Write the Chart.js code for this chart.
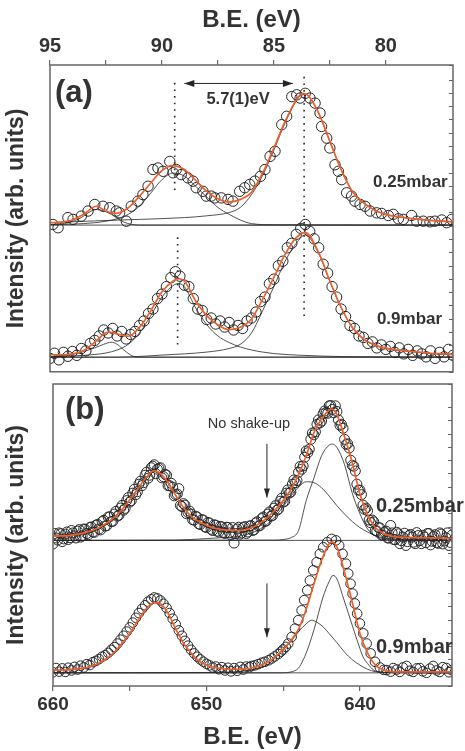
<!DOCTYPE html>
<html>
<head>
<meta charset="utf-8">
<script src="https://cdn.jsdelivr.net/npm/chart.js@4.4.1/dist/chart.umd.min.js"></script>
<style>
  html, body { margin: 0; padding: 0; background: #fff; }
  #wrap { position: relative; width: 465px; height: 751px; }
  #chartA { position: absolute; left: 0; top: 0; }
  #chartB { position: absolute; left: 0; top: 378px; }
</style>
</head>
<body>
<div id="wrap">
  <canvas id="chartA" width="465" height="378"></canvas>
  <canvas id="chartB" width="465" height="373"></canvas>
</div>
<script>
// ---- panel (a): 4d region, B.E. in eV, intensity in arb. units ----
const aTopDataE = [94.87, 94.64, 94.2, 93.97, 93.6, 93.3, 93.0, 92.63, 92.33, 92.04, 91.89, 91.59, 91.37, 91.07, 90.85, 90.62, 90.4, 90.18, 89.95, 89.65, 89.5, 89.36, 89.14, 88.84, 88.61, 88.47, 88.17, 88.02, 87.8, 87.64, 87.35, 87.05, 86.83, 86.53, 86.3, 86.08, 85.85, 85.6, 85.4, 85.17, 84.95, 84.65, 84.43, 84.2, 83.98, 83.83, 83.6, 83.39, 83.16, 82.94, 82.87, 82.64, 82.5, 82.27, 82.12, 81.97, 81.75, 81.53, 81.38, 81.15, 80.93, 80.7, 80.41, 80.19, 79.89, 79.67, 79.44, 79.22, 78.85, 78.62, 78.33, 78.03, 77.81, 77.5, 77.28, 77.06];
const aTopDataI = [49.3, 48.2, 51.6, 51.0, 52.1, 53.8, 56.0, 55.4, 54.9, 53.8, 53.2, 50.4, 55.4, 57.1, 59.3, 62.1, 67.7, 68.2, 67.1, 70.4, 66.6, 67.7, 66.0, 64.9, 63.8, 61.6, 60.4, 58.8, 58.8, 58.2, 58.2, 57.7, 57.1, 60.4, 61.6, 62.7, 63.8, 65.4, 67.7, 72.1, 73.8, 82.7, 85.5, 92.1, 92.7, 91.6, 93.2, 91.6, 89.9, 86.6, 82.1, 78.2, 74.9, 69.3, 67.1, 64.3, 59.9, 58.8, 57.1, 56.0, 55.4, 53.8, 53.2, 53.0, 52.3, 52.7, 51.2, 51.0, 52.3, 50.4, 50.4, 50.2, 50.4, 50.8, 49.9, 51.0];

const aTopFitE = [95, 94.5, 94, 93.5, 92.93, 92.5, 92.1, 91.5, 91, 90.5, 90, 89.55, 89, 88.5, 88, 87.5, 87, 86.5, 86, 85.5, 85, 84.5, 84, 83.7, 83.5, 83, 82.5, 82, 81.5, 81, 80.5, 80, 79.5, 79, 78.5, 78, 77.5, 77];
const aTopFitI = [49.9, 50.1, 50.8, 52.7, 55.4, 53.8, 53.0, 54.9, 58.8, 63.2, 67.3, 69.0, 67.7, 64.1, 60.4, 57.9, 56.8, 57.7, 60.1, 66.6, 74.9, 83.8, 91.0, 93.2, 92.7, 86.6, 77.1, 67.7, 60.4, 56.6, 54.1, 52.7, 51.9, 51.4, 51.0, 50.7, 50.4, 50.2];

const aTopBaseE = [95, 77];
const aTopBaseI = [49.1, 49.1];
const aTopC1E = [95, 94.5, 94.2, 93.6, 93.3, 92.93, 92.6, 92.26, 92, 91.7, 91.4, 91, 77];
const aTopC1I = [49.2, 49.5, 49.9, 51.6, 53.2, 54.3, 53.9, 52.7, 51.4, 50.1, 49.4, 49.1, 49.1];
const aTopC2E = [95, 94, 93, 92.5, 92, 91.5, 91, 90.5, 90, 89.5, 89, 88.5, 88, 87.5, 87, 86.5, 86, 85, 77];
const aTopC2I = [49.2, 49.4, 49.9, 50.4, 51.2, 52.7, 55.5, 59.8, 64.3, 66.5, 65.5, 62.1, 58.5, 55.0, 52.7, 50.8, 49.6, 49.2, 49.1];
const aTopC3E = [95, 93, 91, 89, 88, 87, 86.5, 86, 85.5, 85, 84.5, 84, 83.7, 83.5, 83, 82.5, 82, 81.5, 81, 80.5, 80, 79, 78, 77];
const aTopC3I = [49.9, 50.5, 51.0, 51.6, 52.2, 53.3, 55.0, 59.3, 65.8, 74.2, 83.3, 90.6, 93.0, 92.6, 86.6, 77.1, 67.7, 60.4, 56.6, 54.1, 52.7, 51.4, 50.7, 50.2];

const aBotDataE = [95, 94.8, 94.6, 94.4, 94.2, 94, 93.8, 93.6, 93.4, 93.2, 93, 92.8, 92.6, 92.4, 92.2, 92, 91.8, 91.6, 91.4, 91.2, 91, 90.8, 90.6, 90.4, 90.2, 90, 89.8, 89.6, 89.4, 89.2, 89, 88.8, 88.6, 88.4, 88.2, 88, 87.8, 87.6, 87.4, 87.2, 87, 86.8, 86.6, 86.4, 86.2, 86, 85.8, 85.6, 85.4, 85.2, 85, 84.8, 84.6, 84.4, 84.2, 84, 83.8, 83.6, 83.4, 83.2, 83, 82.8, 82.6, 82.4, 82.2, 82, 81.8, 81.6, 81.4, 81.2, 81, 80.8, 80.6, 80.4, 80.2, 80, 79.8, 79.6, 79.4, 79.2, 79, 78.8, 78.6, 78.4, 78.2, 78, 77.8, 77.6, 77.4, 77.2, 77];
const aBotDataI = [4.5, 6.2, 4.0, 6.5, 5.2, 6.8, 5.5, 7.8, 7.0, 9.5, 10.5, 12.0, 14.0, 13.0, 14.5, 12.0, 13.5, 11.0, 12.5, 13.5, 15.5, 17.0, 19.5, 21.0, 24.5, 26.0, 28.5, 31.5, 33.5, 32.0, 29.0, 28.5, 24.5, 21.0, 20.5, 17.5, 18.0, 16.0, 17.0, 15.0, 16.5, 14.0, 15.5, 14.5, 17.0, 18.0, 20.0, 23.5, 25.0, 29.5, 31.0, 35.5, 37.0, 41.5, 43.0, 46.0, 48.0, 49.3, 47.0, 44.5, 41.5, 36.0, 33.0, 28.5, 25.0, 21.0, 18.5, 15.5, 14.5, 12.0, 11.5, 9.5, 10.0, 8.0, 9.0, 7.5, 8.5, 6.5, 8.0, 6.0, 7.5, 5.5, 7.0, 6.0, 5.0, 7.0, 4.5, 6.5, 5.0, 7.5, 5.5];

const aBotFitE = [95, 94.5, 94, 93.5, 93, 92.4, 92, 91.5, 91, 90.5, 90, 89.5, 89.28, 89, 88.5, 88, 87.5, 87, 86.5, 86, 85.5, 85, 84.5, 84, 83.6, 83, 82.5, 82, 81.5, 81, 80.5, 80, 79.5, 79, 78.5, 78, 77.5, 77];
const aBotFitI = [5.7, 5.7, 6.0, 7.1, 9.9, 13.3, 12.7, 11.9, 14.9, 20.4, 26.8, 30.4, 31.2, 30.4, 23.8, 18.8, 15.7, 14.1, 14.9, 17.7, 24.3, 31.6, 39.3, 44.9, 46.6, 39.9, 30.4, 21.6, 14.9, 11.0, 9.0, 7.9, 7.3, 6.9, 6.6, 6.2, 6.0, 5.8];

const aBotBaseE = [95, 77];
const aBotBaseI = [4.9, 4.9];
const aBotC1E = [95, 94.5, 94, 93.5, 93, 92.6, 92.26, 92, 91.7, 91.4, 91.1, 77];
const aBotC1I = [5.0, 5.3, 5.8, 6.8, 8.0, 9.2, 9.9, 9.2, 7.3, 5.6, 4.9, 4.9];
const aBotC2E = [95, 94, 93, 92.5, 92, 91.5, 91, 90.5, 90, 89.6, 89.28, 89, 88.5, 88, 87.5, 87, 86.5, 86, 85.5, 85, 84, 83, 82, 80, 77];
const aBotC2I = [5.0, 5.3, 5.8, 6.3, 7.3, 9.2, 13.0, 18.8, 25.0, 28.3, 29.5, 28.5, 21.5, 15.8, 12.0, 9.8, 8.3, 7.3, 6.6, 6.1, 5.6, 5.3, 5.1, 5.0, 4.9];
const aBotC3E = [95, 92, 91.4, 90, 88, 87, 86.5, 86, 85.5, 85, 84.5, 84, 83.6, 83, 82.5, 82, 81.5, 81, 80.5, 80, 79, 78, 77];
const aBotC3I = [4.9, 4.9, 5.0, 5.6, 6.6, 7.8, 9.2, 13.0, 20.5, 28.5, 37.0, 43.0, 45.8, 39.6, 30.2, 21.5, 14.8, 10.9, 8.9, 7.8, 6.8, 6.1, 5.7];

// ---- panel (b): 2p region ----
const bTopDataE = [660, 659.8, 659.6, 659.4, 659.2, 659, 658.8, 658.6, 658.4, 658.2, 658, 657.8, 657.6, 657.4, 657.2, 657, 656.8, 656.6, 656.4, 656.2, 656, 655.8, 655.6, 655.4, 655.2, 655, 654.8, 654.6, 654.4, 654.2, 654, 653.8, 653.6, 653.4, 653.2, 653, 652.8, 652.6, 652.4, 652.2, 652, 651.8, 651.6, 651.4, 651.2, 651, 650.8, 650.6, 650.4, 650.2, 650, 649.8, 649.6, 649.4, 649.2, 649, 648.8, 648.6, 648.4, 648.2, 648, 647.8, 647.6, 647.4, 647.2, 647, 646.8, 646.6, 646.4, 646.2, 646, 645.8, 645.6, 645.4, 645.2, 645, 644.8, 644.6, 644.4, 644.2, 644, 643.8, 643.6, 643.4, 643.2, 643, 642.8, 642.6, 642.4, 642.2, 642, 641.8, 641.6, 641.4, 641.2, 641, 640.8, 640.6, 640.4, 640.2, 640, 639.8, 639.6, 639.4, 639.2, 639, 638.8, 638.6, 638.4, 638.2, 638, 637.8, 637.6, 637.4, 637.2, 637, 636.8, 636.6, 636.4, 636.2, 636, 635.8, 635.6, 635.4, 635.2, 635, 634.8, 634.6, 634.4, 634.2, 634];
const bTopDataI = [47.5, 49.5, 51.2, 48.3, 50.8, 49.0, 52.0, 50.2, 51.8, 49.8, 52.5, 51.0, 53.0, 51.5, 53.8, 52.5, 55.0, 53.5, 56.5, 55.0, 57.5, 56.8, 59.5, 58.8, 62.0, 61.5, 64.5, 64.0, 67.5, 67.0, 70.5, 69.5, 73.0, 74.0, 72.5, 73.0, 70.0, 70.5, 67.0, 66.5, 64.0, 66.0, 60.0, 60.5, 58.0, 57.5, 55.5, 56.5, 54.0, 55.5, 53.0, 54.5, 52.0, 53.8, 51.5, 53.2, 51.0, 53.0, 50.5, 47.8, 52.5, 50.8, 53.0, 51.0, 53.5, 52.0, 54.5, 53.5, 56.0, 55.0, 57.5, 56.8, 59.5, 58.8, 61.8, 61.5, 64.5, 64.5, 67.5, 68.0, 71.5, 72.5, 76.5, 78.0, 82.5, 84.0, 87.5, 88.0, 91.0, 91.5, 93.7, 92.5, 93.7, 89.0, 87.5, 82.5, 81.0, 75.5, 73.5, 67.5, 65.5, 60.5, 59.5, 55.5, 55.5, 52.0, 53.0, 50.5, 51.5, 49.5, 53.7, 49.0, 51.4, 47.6, 49.8, 47.0, 50.3, 49.8, 47.6, 50.3, 47.6, 49.8, 51.0, 47.2, 50.0, 48.0, 51.2, 47.5, 49.6, 47.0, 50.5];
const bTopData2E = [659.9, 659.7, 659.5, 659.3, 659.1, 658.9, 658.7, 658.5, 658.3, 658.1, 657.9, 657.7, 657.5, 657.3, 657.1, 656.9, 656.7, 656.5, 656.3, 656.1, 655.9, 655.7, 655.5, 655.3, 655.1, 654.9, 654.7, 654.5, 654.3, 654.1, 653.9, 653.7, 653.5, 653.3, 653.1, 652.9, 652.7, 652.5, 652.3, 652.1, 651.9, 651.7, 651.5, 651.3, 651.1, 650.9, 650.7, 650.5, 650.3, 650.1, 649.9, 649.7, 649.5, 649.3, 649.1, 648.9, 648.7, 648.5, 648.3, 648.1, 647.9, 647.7, 647.5, 647.3, 647.1, 646.9, 646.7, 646.5, 646.3, 646.1, 645.9, 645.7, 645.5, 645.3, 645.1, 644.9, 644.7, 644.5, 644.3, 644.1, 643.9, 643.7, 643.5, 643.3, 643.1, 642.9, 642.7, 642.5, 642.3, 642.1, 641.9, 641.7, 641.5, 641.3, 641.1, 640.9, 640.7, 640.5, 640.3, 640.1, 639.9, 639.7, 639.5, 639.3, 639.1, 638.9, 638.7, 638.5, 638.3, 638.1, 637.9, 637.7, 637.5, 637.3, 637.1, 636.9, 636.7, 636.5, 636.3, 636.1, 635.9, 635.7, 635.5, 635.3, 635.1, 634.9, 634.7, 634.5, 634.3, 634.1];
const bTopData2I = [51.0, 48.8, 50.9, 49.2, 51.5, 49.6, 51.2, 49.5, 52.3, 50.2, 52.4, 50.6, 53.2, 51.4, 54.0, 52.2, 55.4, 53.6, 56.6, 55.1, 58.4, 57.1, 60.4, 59.4, 63.0, 62.0, 65.8, 65.0, 68.5, 68.0, 71.5, 70.5, 73.5, 71.0, 72.8, 69.6, 70.8, 67.0, 67.8, 63.6, 64.2, 60.4, 61.0, 57.6, 58.5, 55.6, 56.8, 54.2, 55.6, 53.2, 54.7, 52.4, 53.9, 51.8, 53.4, 51.4, 53.1, 51.2, 53.0, 51.0, 53.1, 51.2, 53.3, 51.5, 53.6, 52.2, 54.9, 53.7, 56.5, 55.2, 58.2, 57.0, 60.3, 59.2, 62.8, 61.8, 65.6, 64.9, 68.9, 68.7, 73.4, 73.6, 78.6, 79.2, 84.6, 85.0, 89.0, 88.6, 92.0, 91.2, 93.8, 91.4, 91.8, 87.2, 86.2, 80.8, 79.6, 73.8, 71.9, 65.5, 64.0, 59.1, 58.6, 54.6, 54.9, 51.8, 52.9, 50.4, 51.8, 49.5, 51.2, 48.9, 50.9, 48.6, 51.1, 48.3, 50.7, 48.1, 51.3, 48.6, 50.4, 47.9, 51.0, 48.4, 50.6, 47.7, 50.8, 48.5, 51.2, 48.0];

const bTopFitE = [660, 659.5, 659, 658.5, 658, 657.5, 657, 656.5, 656, 655.5, 655, 654.5, 654, 653.4, 653, 652.5, 652, 651.5, 651, 650.5, 650, 649.5, 649, 648.5, 648, 647.5, 647, 646.5, 646, 645.5, 645, 644.5, 644, 643.5, 643, 642.5, 641.85, 641.5, 641, 640.5, 640, 639.5, 639, 638.5, 638, 637.5, 637, 636, 635, 634];
const bTopFitI = [50.1, 50.2, 50.3, 50.7, 51.2, 51.9, 53.0, 54.5, 56.5, 59.0, 62.3, 65.7, 69.3, 72.0, 71.0, 68.0, 63.7, 59.7, 56.8, 55.0, 53.8, 52.8, 52.3, 52.1, 52.0, 52.2, 53.0, 54.5, 56.5, 59.0, 62.0, 65.7, 70.7, 77.0, 84.7, 89.3, 92.6, 90.7, 83.3, 74.7, 64.2, 57.3, 53.0, 51.2, 50.2, 49.8, 49.7, 49.6, 49.5, 49.4];

const bTopBaseE = [660, 634];
const bTopBaseI = [48.7, 48.7];
const bTopBroadE = [660, 652, 650, 649, 648, 647.5, 647, 646.5, 646, 645.5, 645, 644.5, 644, 643.5, 643, 642.5, 642, 641.5, 641, 640.5, 640, 639.5, 639, 638.5, 638, 637, 634];
const bTopBroadI = [48.7, 48.8, 49.3, 49.6, 50.0, 50.5, 51.3, 52.5, 54.3, 56.8, 60.0, 63.5, 66.5, 68.3, 68.0, 66.3, 63.5, 60.3, 57.5, 55.0, 53.0, 51.5, 50.3, 49.6, 49.2, 48.9, 48.7];
const bTopNarrowE = [660, 645.5, 645, 644.5, 644, 643.5, 643, 642.5, 642, 641.8, 641.5, 641, 640.5, 640, 639.5, 639, 638.5, 638, 634];
const bTopNarrowI = [48.7, 48.8, 49.0, 49.6, 52.0, 62.0, 69.5, 77.0, 80.6, 80.9, 79.8, 74.0, 64.5, 57.6, 52.5, 50.2, 49.3, 48.9, 48.7];

const bBotDataE = [660, 659.8, 659.6, 659.4, 659.2, 659, 658.8, 658.6, 658.4, 658.2, 658, 657.8, 657.6, 657.4, 657.2, 657, 656.8, 656.6, 656.4, 656.2, 656, 655.8, 655.6, 655.4, 655.2, 655, 654.8, 654.6, 654.4, 654.2, 654, 653.8, 653.6, 653.4, 653.2, 653, 652.8, 652.6, 652.4, 652.2, 652, 651.8, 651.6, 651.4, 651.2, 651, 650.8, 650.6, 650.4, 650.2, 650, 649.8, 649.6, 649.4, 649.2, 649, 648.8, 648.6, 648.4, 648.2, 648, 647.8, 647.6, 647.4, 647.2, 647.06, 646.85, 646.63, 646.4, 646.19, 645.95, 645.75, 645.55, 645.32, 645.15, 645.0, 644.83, 644.67, 644.45, 644.23, 644.02, 643.8, 643.63, 643.43, 643.26, 643.04, 642.82, 642.61, 642.39, 642.13, 641.84, 641.56, 641.35, 641.13, 640.91, 640.76, 640.61, 640.48, 640.33, 640.18, 640.0, 639.78, 639.56, 639.3, 639.02, 638.7, 638.45, 638.26, 638.0, 637.83, 637.6, 637.4, 637.2, 636.96, 636.75, 636.53, 636.3, 636.1, 635.9, 635.66, 635.45, 635.23, 635.0, 634.8, 634.6, 634.36, 634.2, 634.03];
const bBotDataI = [4.6, 6.0, 4.8, 5.9, 4.7, 6.1, 5.2, 6.4, 5.5, 6.8, 6.2, 7.3, 7.0, 8.0, 8.4, 9.0, 9.8, 10.3, 11.1, 12.1, 13.0, 14.2, 15.5, 16.8, 18.2, 19.6, 21.2, 22.8, 24.4, 25.8, 27.0, 28.2, 29.0, 29.6, 29.3, 28.6, 27.5, 26.1, 24.4, 22.5, 20.6, 18.6, 16.8, 15.1, 13.5, 12.1, 10.9, 9.8, 8.9, 8.1, 7.4, 6.9, 6.2, 6.5, 5.6, 6.3, 5.2, 6.1, 4.9, 6.0, 5.1, 6.4, 5.5, 6.5, 6.3, 6.7, 6.9, 7.3, 7.8, 8.1, 8.6, 9.2, 9.9, 10.7, 11.5, 12.2, 13.1, 14.2, 16.4, 19.2, 22.0, 25.3, 28.7, 32.0, 35.3, 38.7, 41.4, 44.2, 46.4, 48.1, 49.2, 48.7, 47.0, 44.2, 40.9, 37.6, 34.2, 30.9, 27.6, 24.2, 20.9, 17.6, 14.2, 10.9, 8.1, 6.2, 5.4, 5.3, 4.8, 6.0, 5.5, 4.7, 6.2, 6.7, 5.1, 4.7, 5.9, 6.0, 4.9, 4.4, 5.8, 6.7, 5.2, 4.7, 6.3, 6.0, 4.6, 5.3];

const bBotFitE = [660, 659.5, 659, 658.5, 658, 657.5, 657, 656.5, 656, 655.5, 655, 654.5, 654, 653.4, 653, 652.5, 652, 651.5, 651, 650.5, 650, 649.5, 649, 648.5, 648, 647.5, 647, 646.5, 646, 645.5, 645, 644.5, 644, 643.5, 643, 642.5, 641.85, 641.5, 641, 640.5, 640, 639.5, 639, 638.5, 638, 637, 634];
const bBotFitI = [5.3, 5.3, 5.4, 5.7, 6.0, 6.6, 7.7, 9.2, 11.3, 14.2, 17.4, 21.7, 25.3, 27.9, 27.5, 24.3, 19.0, 14.3, 11.0, 8.4, 7.0, 6.2, 5.8, 5.6, 5.6, 5.7, 6.1, 6.9, 8.0, 9.8, 12.3, 15.2, 19.0, 25.7, 34.0, 42.0, 48.1, 46.5, 38.0, 28.0, 17.6, 11.0, 7.0, 5.5, 4.8, 4.7, 4.7];

const bBotBaseE = [660, 634];
const bBotBaseI = [4.4, 4.4];
const bBotBroadE = [660, 650, 649, 648, 647, 646.5, 646, 645.5, 645, 644.5, 644, 643.5, 643.15, 642.8, 642.4, 642, 641.5, 641, 640.5, 640, 639.5, 639, 638.5, 634];
const bBotBroadI = [4.4, 4.5, 4.6, 4.8, 5.5, 6.2, 7.2, 9.5, 12.0, 14.8, 18.2, 20.8, 22.0, 21.3, 19.8, 17.5, 14.5, 11.3, 8.8, 7.0, 5.6, 4.8, 4.5, 4.4];
const bBotNarrowE = [660, 645, 644.5, 644, 643.7, 643.5, 643, 642.4, 642, 641.75, 641.5, 641.1, 640.4, 640, 639.8, 639.5, 639.1, 638.5, 634];
const bBotNarrowI = [4.4, 4.4, 4.7, 6.0, 8.7, 11.0, 18.7, 29.8, 35.0, 37.0, 35.8, 29.8, 18.7, 12.5, 9.8, 7.5, 5.3, 4.6, 4.4];

// ---- look ----
Chart.defaults.font.family = '"Liberation Sans", Arial, Helvetica, sans-serif';
Chart.defaults.color = '#333';
const FONT = '"Liberation Sans", Arial, Helvetica, sans-serif';
const ORANGE = '#ee5f2c';
const INK = '#262626';
const FRAME = '#666';

function pts(E, I) { return E.map((x, i) => ({ x: x, y: I[i] })); }
function fitSet(E, I) {
  return { data: pts(E, I), showLine: true, pointRadius: 0, borderColor: ORANGE, borderWidth: 1.7, cubicInterpolationMode: 'monotone' };
}
function compSet(E, I) {
  return { data: pts(E, I), showLine: true, pointRadius: 0, borderColor: INK, borderWidth: 0.8, cubicInterpolationMode: 'monotone' };
}
function dotSet(E, I, r) {
  return { data: pts(E, I), showLine: false, pointRadius: r, pointBackgroundColor: 'rgba(0,0,0,0)', pointBorderColor: INK, pointBorderWidth: 1 };
}

function head(ctx, x0, y0, x1, y1, len, half) {
  const a = Math.atan2(y1 - y0, x1 - x0);
  ctx.beginPath();
  ctx.moveTo(x1, y1);
  ctx.lineTo(x1 - len * Math.cos(a) + half * Math.sin(a), y1 - len * Math.sin(a) - half * Math.cos(a));
  ctx.lineTo(x1 - len * Math.cos(a) - half * Math.sin(a), y1 - len * Math.sin(a) + half * Math.cos(a));
  ctx.closePath();
  ctx.fill();
}

// frame, inner ticks on the right, guides, arrows and labels
const panelDecor = {
  id: 'panelDecor',
  afterDatasetsDraw(chart, args, opts) {
    const { ctx, chartArea: a, scales: { x, y, y2 } } = chart;
    ctx.save();
    ctx.strokeStyle = FRAME;
    ctx.lineWidth = 1;
    y2.ticks.forEach(t => {
      const py = Math.round(y2.getPixelForValue(t.value)) + 0.5;
      ctx.beginPath(); ctx.moveTo(a.right - 4, py); ctx.lineTo(a.right, py); ctx.stroke();
    });
    ctx.lineWidth = 1.5;
    ctx.strokeRect(a.left, a.top, a.right - a.left, a.bottom - a.top);

    ctx.strokeStyle = INK;
    ctx.lineWidth = 1.6;
    ctx.setLineDash([1.6, 5]);
    (opts.guides || []).forEach(g => {
      const px = x.getPixelForValue(g.e);
      ctx.beginPath(); ctx.moveTo(px, y.getPixelForValue(g.from)); ctx.lineTo(px, y.getPixelForValue(g.to)); ctx.stroke();
    });
    ctx.setLineDash([]);

    ctx.fillStyle = INK;
    ctx.lineWidth = 1;
    (opts.arrows || []).forEach(r => {
      const x0 = x.getPixelForValue(r.from[0]), y0 = y.getPixelForValue(r.from[1]);
      const x1 = x.getPixelForValue(r.to[0]), y1 = y.getPixelForValue(r.to[1]);
      ctx.beginPath(); ctx.moveTo(x0, y0); ctx.lineTo(x1, y1); ctx.stroke();
      head(ctx, x0, y0, x1, y1, r.len, r.half);
      if (r.both) head(ctx, x1, y1, x0, y0, r.len, r.half);
    });

    ctx.fillStyle = '#333';
    ctx.textBaseline = 'middle';
    (opts.labels || []).forEach(l => {
      ctx.font = l.font;
      ctx.textAlign = l.align || 'left';
      ctx.fillText(l.text, x.getPixelForValue(l.e), y.getPixelForValue(l.v));
    });
    ctx.restore();
  }
};

function onStep(step) {
  return s => { s.ticks = s.ticks.filter(t => Math.abs(t.value / step - Math.round(t.value / step)) < 1e-6); };
}
function labelEvery(step) {
  return v => (Math.abs(v / step - Math.round(v / step)) < 1e-6 ? String(Math.round(v)) : '');
}

function panelOptions(p) {
  return {
    responsive: false,
    animation: false,
    events: [],
    layout: { padding: p.padding },
    plugins: { legend: { display: false }, tooltip: { enabled: false }, panelDecor: p.decor },
    scales: {
      x: {
        type: 'linear', position: p.xPos, reverse: true, min: p.xMin, max: p.xMax,
        afterFit: s => { s.height = 65; },
        afterBuildTicks: onStep(p.xStep),
        ticks: { stepSize: p.xStep, autoSkip: false, maxRotation: 0, padding: 2, color: '#333',
                 font: { size: p.tickSize, weight: 'bold' }, callback: labelEvery(p.xLabelStep) },
        grid: { drawOnChartArea: false, tickLength: 5, color: FRAME, lineWidth: 1.2 },
        border: { display: false },
        title: { display: true, text: 'B.E. (eV)', color: '#333',
                 font: { size: 24, weight: 'bold', lineHeight: 1.1 }, padding: p.titlePad }
      },
      y: {
        type: 'linear', position: 'left', min: 0, max: p.yMax,
        afterFit: s => { s.width = p.left; },
        ticks: { display: false }, grid: { display: false }, border: { display: false },
        title: { display: true, text: 'Intensity (arb. units)', color: '#333',
                 font: { size: 23, weight: 'bold' }, padding: { top: 3, bottom: 0 } }
      },
      y2: {
        type: 'linear', position: 'right', min: 0, max: p.yMax,
        afterFit: s => { s.width = p.right; },
        ticks: { display: false, stepSize: 4.444 }, grid: { display: false }, border: { display: false }
      }
    }
  };
}

new Chart(document.getElementById('chartA'), {
  type: 'scatter',
  data: {
    datasets: [
      fitSet(aTopFitE, aTopFitI),
      fitSet(aBotFitE, aBotFitI),
      compSet(aTopBaseE, aTopBaseI),
      compSet(aTopC1E, aTopC1I),
      compSet(aTopC2E, aTopC2I),
      compSet(aTopC3E, aTopC3I),
      compSet(aBotBaseE, aBotBaseI),
      compSet(aBotC1E, aBotC1I),
      compSet(aBotC2E, aBotC2I),
      compSet(aBotC3E, aBotC3I),
      dotSet(aTopDataE, aTopDataI, 5.2),
      dotSet(aBotDataE, aBotDataI, 5.2)
    ]
  },
  options: panelOptions({
    padding: { top: 0, bottom: 5, left: 0, right: 0 },
    xPos: 'top', xMin: 77, xMax: 95, xStep: 2.5, xLabelStep: 5, tickSize: 20,
    titlePad: { top: 7, bottom: 0 }, yMax: 102.67, left: 50, right: 12,
    decor: {
      guides: [ { e: 89.43, from: 96.7, to: 60.3 }, { e: 83.65, from: 98.7, to: 18.3 }, { e: 89.3, from: 45, to: 9 } ],
      arrows: [ { from: [89.0, 96.5], to: [84.15, 96.5], both: true, len: 10, half: 3.5 } ],
      labels: [
        { text: '(a)', e: 94.78, v: 93, font: 'bold 31px ' + FONT },
        { text: '5.7(1)eV', e: 86.6, v: 91.3, align: 'center', font: 'bold 16.5px ' + FONT },
        { text: '0.25mbar', e: 80.57, v: 63.3, font: 'bold 17px ' + FONT },
        { text: '0.9mbar', e: 80.4, v: 17.7, font: 'bold 17px ' + FONT }
      ]
    }
  }),
  plugins: [panelDecor]
});

new Chart(document.getElementById('chartB'), {
  type: 'scatter',
  data: {
    datasets: [
      fitSet(bTopFitE, bTopFitI),
      fitSet(bBotFitE, bBotFitI),
      compSet(bTopBaseE, bTopBaseI),
      compSet(bTopBroadE, bTopBroadI),
      compSet(bTopNarrowE, bTopNarrowI),
      compSet(bBotBaseE, bBotBaseI),
      compSet(bBotBroadE, bBotBroadI),
      compSet(bBotNarrowE, bBotNarrowI),
      dotSet(bTopDataE, bTopDataI, 5),
      dotSet(bTopData2E, bTopData2I, 5),
      dotSet(bBotDataE, bBotDataI, 4.8)
    ]
  },
  options: panelOptions({
    padding: { top: 5, bottom: 0, left: 0, right: 0 },
    xPos: 'bottom', xMin: 634, xMax: 660, xStep: 5, xLabelStep: 10, tickSize: 19,
    titlePad: { top: 0, bottom: 0 }, yMax: 101, left: 53, right: 13,
    decor: {
      guides: [],
      arrows: [
        { from: [646.06, 81], to: [646.06, 63], both: false, len: 9, half: 3 },
        { from: [646.06, 34.3], to: [646.06, 16.3], both: false, len: 9, half: 3 }
      ],
      labels: [
        { text: '(b)', e: 659.22, v: 92, font: 'bold 31px ' + FONT },
        { text: 'No shake-up', e: 647.23, v: 87.7, align: 'center', font: '14.5px ' + FONT },
        { text: '0.25mbar', e: 638.96, v: 60, font: 'bold 20px ' + FONT },
        { text: '0.9mbar', e: 638.96, v: 13, font: 'bold 20px ' + FONT }
      ]
    }
  }),
  plugins: [panelDecor]
});
</script>
</body>
</html>
